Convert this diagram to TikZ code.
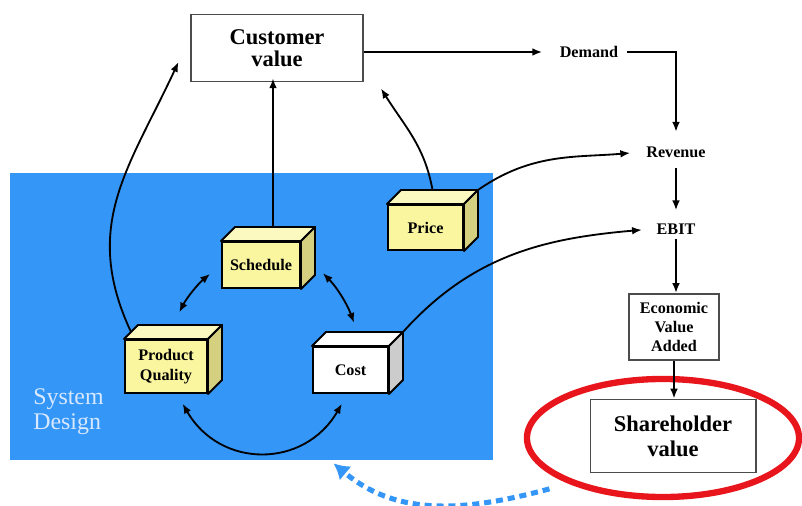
\documentclass[tikz,border=0pt]{standalone}
\usepackage{fontspec}
\setmainfont{Liberation Serif}
\usetikzlibrary{arrows.meta,shapes.geometric}
\definecolor{sysblue}{RGB}{52,150,247}
\definecolor{syslabel}{RGB}{215,232,255}
\definecolor{cubefront}{RGB}{250,246,160}
\definecolor{cubetop}{RGB}{252,249,192}
\definecolor{cubeside}{RGB}{212,208,128}
\definecolor{ringred}{RGB}{232,22,28}

\begin{document}
\begin{tikzpicture}[x=0.025cm,y=0.025cm,>={Latex[length=7pt,width=5.5pt]},
  box/.style={draw=black!70,line width=1.4pt,fill=white,align=center,inner sep=0pt},
  cube/.style={draw,line width=1.4pt,fill=cubefront,align=center,inner sep=0pt,
    font=\fontsize{11.5}{14}\selectfont\bfseries},
  flow/.style={font=\fontsize{11.5}{13}\selectfont\bfseries},
  link/.style={->,line width=1.3pt}]
\useasboundingbox (0,0) rectangle (802,506);
\node[fill=sysblue,minimum width=12.075cm,minimum height=7.175cm,inner sep=0pt] (sysdes) at (251.5,189.5) {};
\node[anchor=west,align=left,inner sep=0pt,text=syslabel,font=\fontsize{17}{18}\selectfont] (syslbl) at (33,94) {System\\Design};

\node[box,minimum width=4.275cm,minimum height=1.675cm,font=\fontsize{16}{16}\selectfont\bfseries] (cust) at (277,458) {Customer\\value};
\node[flow] (demand) at (589,454) {Demand};
\node[flow] (rev) at (676,354) {Revenue};
\node[flow] (ebit) at (676,277) {EBIT};
\node[box,minimum width=2.25cm,minimum height=1.65cm,font=\fontsize{11.5}{13.5}\selectfont\bfseries] (eva) at (674,179) {Economic\\Value\\Added};
\node[ellipse,draw=ringred,line width=4.5pt,minimum width=6.8cm,minimum height=2.95cm,inner sep=0pt] (ring) at (663,68) {};
\node[box,minimum width=4.125cm,minimum height=1.825cm,font=\fontsize{16}{18}\selectfont\bfseries] (share) at (673,70) {Shareholder\\value};

\node[cube,minimum width=1.875cm,minimum height=1.125cm] (price) at (425.5,278.5) {Price};
\node[cube,minimum width=1.95cm,minimum height=1.15cm] (sched) at (261,241) {Schedule};
\node[cube,minimum width=2.05cm,minimum height=1.325cm] (pq) at (166,139.5) {Product\\Quality};
\node[cube,fill=white,minimum width=1.875cm,minimum height=1.15cm] (cost) at (350.5,136) {Cost};
\foreach \n/\t/\s in {price/cubetop/cubeside,sched/cubetop/cubeside,pq/cubetop/cubeside,cost/white/black!20}{
  \draw[line width=1.4pt,line join=round,fill=\t] (\n.north west) -- ++(14,14) -- ([shift={(14,14)}]\n.north east) -- (\n.north east) -- cycle;
  \draw[line width=1.4pt,line join=round,fill=\s] (\n.north east) -- ++(14,14) -- ([shift={(14,14)}]\n.south east) -- (\n.south east) -- cycle;
}

\draw[link,shorten >=9pt] (cust.east |- demand) -- (demand.west);
\draw[link,shorten <=3pt,shorten >=7pt] (demand.east) -| (rev.north);
\draw[link,shorten <=4pt,shorten >=6pt] (rev.south) -- (rev.south |- ebit.north);
\draw[link] (ebit.south) -- (ebit.south |- eva.north);
\draw[link] (eva.south) -- (eva.south |- share.north);

\draw[link,shorten >=7pt] ([shift={(12,14)}]sched.north) -- ([shift={(12,14)}]sched.north |- cust.south);
\draw[link] ([shift={(7,14)}]price.north) to[out=100,in=-58] ([shift={(104,-6)}]cust.south);
\draw[link] ([shift={(7,7)}]pq.north west) to[out=115,in=-115,looseness=1.1] ([shift={(-12,-14)}]cust.west);
\draw[link,shorten >=8pt] ([shift={(14,14)}]price.north east) to[out=35,in=185] (rev.west);
\draw[link,shorten >=7pt] ([shift={(14,14)}]cost.north east) to[out=48,in=185] (ebit.west);

\draw[<->,line width=1.3pt,shorten <=10pt,shorten >=10pt] (sched.west) to[bend right=12] ([shift={(7,14)}]pq.north);
\draw[<->,line width=1.3pt,shorten <=8pt,shorten >=7pt] ([shift={(14,0)}]sched.east) to[bend left=12] ([shift={(7,14)}]cost.north);
\draw[<->,line width=1.3pt,shorten <=8pt,shorten >=8pt] ([shift={(-3,0)}]cost.south) to[out=-120,in=-60,looseness=1.3] ([shift={(11,0)}]pq.south);

\draw[sysblue,line width=3.6pt,dash pattern=on 5pt off 3.5pt,-{Latex[length=11pt,width=13pt]}] ([shift={(-15,-7)}]ring.204) to[out=195,in=-40] ([shift={(82,-3)}]sysdes.south);
\end{tikzpicture}
\end{document}
